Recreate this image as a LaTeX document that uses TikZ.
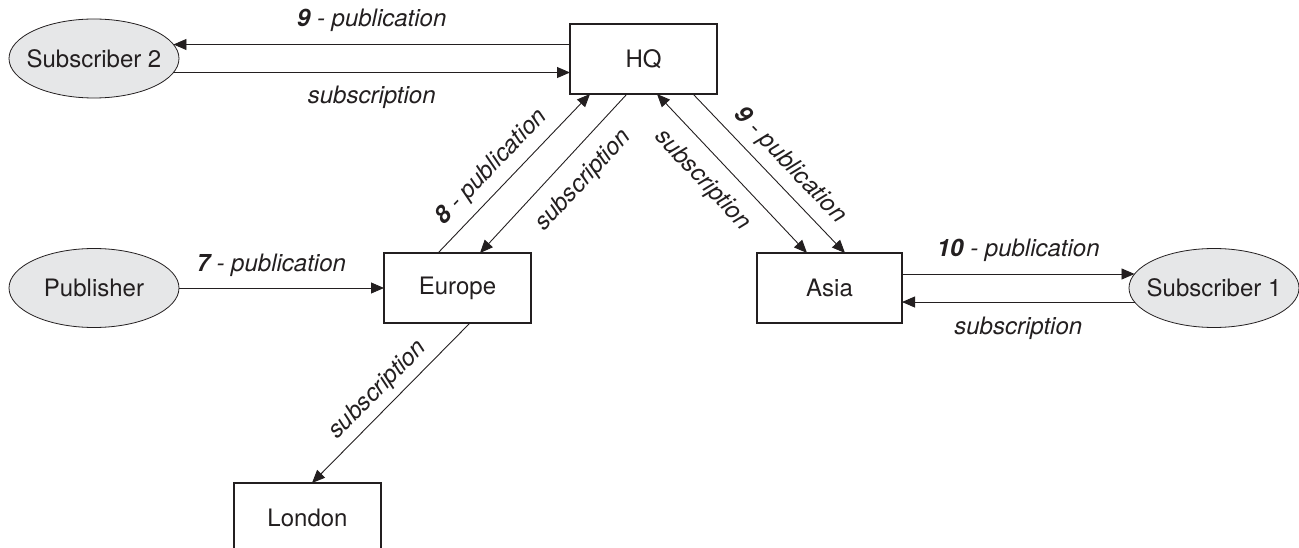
\documentclass[tikz,border=0pt]{standalone}
\usepackage{fontspec}
\setmainfont{TeX Gyre Heros}
\usetikzlibrary{arrows.meta,shapes.geometric}
\definecolor{ink}{HTML}{231F20}
\definecolor{ellfill}{HTML}{E6E7E8}
\tikzset{hd/.tip={Triangle[length=13pt,width=11pt]}}
\begin{document}
\begin{tikzpicture}[x=1pt,y=-1pt,
  font=\fontsize{24}{28}\selectfont,
  box/.style={draw=ink, line width=1.2pt, rectangle, minimum width=147pt, minimum height=70pt, inner sep=0pt, outer sep=0pt, text=ink},
  oval/.style={draw=ink, line width=0.8pt, fill=ellfill, ellipse, minimum width=170pt, minimum height=79pt, inner sep=0pt, outer sep=0pt, text=ink},
  arr/.style={draw=ink, line width=0.9pt, -hd},
  dbl/.style={draw=ink, line width=0.9pt, hd-hd},
  lab/.style={font=\fontsize{24}{28}\selectfont\itshape, text=ink, inner sep=0pt},
]
\useasboundingbox (0,0) rectangle (1299,548);
\clip (0,0) rectangle (1299,548);

\node[oval] (sub2) at (94,58.5) {\makebox[0pt]{Subscriber 2}};
\node[box] (hq) at (643.5,59) {HQ};
\node[oval] (pub) at (94,288) {\makebox[0pt]{Publisher}};
\node[box] (europe) at (457.5,288) {Europe};
\node[box, minimum width=145pt] (asia) at (829.5,288) {Asia};
\node[oval] (sub1) at (1214,288) {\makebox[0pt]{Subscriber 1}};
\node[box] (london) at (307.5,518) {London};

% HQ <-> Subscriber 2
\draw[arr] (hq.west |- sub2.10) -- (sub2.10)
  node[lab, midway, above=12pt] {\textbf{9} - publication};
\draw[arr] (sub2.350) -- (hq.west |- sub2.350)
  node[lab, midway, below=13pt] {subscription};

% Publisher -> Europe
\draw[arr] (pub) -- (europe)
  node[lab, pos=0.45, above=11pt] {\textbf{7} - publication};

% Asia <-> Subscriber 1
\draw[arr] (asia.east |- sub1.170) -- (sub1.170)
  node[lab, midway, above=12pt] {\textbf{10} - publication};
\draw[arr] (sub1.190) -- (asia.east |- sub1.190)
  node[lab, midway, below=15pt] {subscription};

% Europe <-> HQ
\draw[arr] ([xshift=54pt]europe.north west) -- ([xshift=20pt]hq.south west)
  node[lab, sloped, pos=0.45, above=9pt] {\textbf{8} - publication};
\draw[arr] ([xshift=57pt]hq.south west) -- ([xshift=96pt]europe.north west)
  node[lab, sloped, pos=0.43, below=15pt] {subscription};

% HQ <-> Asia
\draw[dbl] ([xshift=87pt]hq.south west) -- ([xshift=50pt]asia.north west)
  node[lab, sloped, pos=0.43, below=14pt] {subscription};
\draw[arr] ([xshift=123pt]hq.south west) -- ([xshift=88pt]asia.north west)
  node[lab, sloped, pos=0.54, above=9pt] {\textbf{9} - publication};

% Europe -> London
\draw[arr] ([xshift=86pt]europe.south west) -- ([xshift=78pt]london.north west)
  node[lab, sloped, midway, above=6.5pt] {subscription};
\end{tikzpicture}
\end{document}
